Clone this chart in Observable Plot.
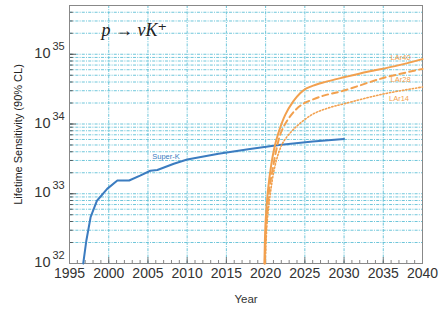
<!DOCTYPE html>
<html><head><meta charset="utf-8">
<script src="https://cdn.jsdelivr.net/npm/d3@7"></script>
<script src="https://cdn.jsdelivr.net/npm/@observablehq/plot@0.6"></script>
<style>body{margin:0;background:#fff}</style>
</head><body><div id="chart"></div>
<script>
// Data (year, log10 lifetime in years)
const superK = [[1996.75,32.0],[1997.15,32.33],[1997.7,32.67],[1998.5,32.9],[1999.8,33.07],[2001.1,33.19],[2002.6,33.19],[2004.0,33.26],[2005.3,33.33],[2006.2,33.34],[2008.3,33.43],[2010,33.49],[2014,33.575],[2018,33.64],[2021.7,33.7],[2026,33.75],[2030,33.786]];
const lar40 = [[2019.85,32.0],[2020.0,32.6],[2020.3,33.05],[2020.7,33.4],[2021.1,33.65],[2021.6,33.86],[2022.5,34.13],[2023.5,34.32],[2024.4,34.44],[2025.2,34.51],[2026.3,34.56],[2027.5,34.6],[2030,34.67],[2033,34.75],[2036.5,34.83],[2040,34.93]];
const lar28 = [[2019.9,32.0],[2020.1,32.6],[2020.45,33.05],[2020.9,33.35],[2021.35,33.62],[2021.9,33.86],[2022.7,34.04],[2023.8,34.2],[2024.8,34.29],[2026,34.35],[2027.5,34.41],[2030,34.48],[2035,34.66],[2040,34.79]];
const lar14 = [[2019.95,32.0],[2020.2,32.6],[2020.6,33.0],[2021.1,33.35],[2021.7,33.6],[2022.3,33.75],[2023.8,33.95],[2026,34.14],[2028,34.23],[2030,34.29],[2035,34.43],[2040,34.53]];
const seriesLabels = [
  {text:"Super-K", x:2007.3, y:33.53, color:"#3b7cc0"},
  {text:"LAr40", x:2037.2, y:34.955, color:"#f2a04e"},
  {text:"LAr28", x:2037.2, y:34.636, color:"#f2a04e"},
  {text:"LAr14", x:2037.0, y:34.364, color:"#f2a04e"}
];
const xTicks = [1995,2000,2005,2010,2015,2020,2025,2030,2035,2040];
const decades = [32,33,34,35];
const title = "p → νK⁺";

const pts = a => a.map(([x,l]) => ({x, y: Math.pow(10,l)}));
const minorYears = d3.range(1995,2041);
const gridYears = xTicks.slice(1,-1);
const minorY = [];
for (const e of [32,33,34,35]) for (let m=1;m<=9;m++){ const v=m*Math.pow(10,e); if (v>1e32 && v<5e35) minorY.push({v, major:m===1}); }

const blue = "#3b7cc0", orange = "#f2a04e", grid = "#5fbfd6";
const font = "Liberation Sans, Arial, sans-serif";

const chart = Plot.plot({
  width: 441, height: 310,
  marginLeft: 69, marginRight: 19, marginTop: 5, marginBottom: 47,
  style: {fontFamily: font, background: "#fff"},
  x: {domain: [1995, 2040], label: null},
  y: {type: "log", domain: [1e32, 5e35], axis: null},
  marks: [
    // grid
    Plot.ruleX(gridYears, {x: d => d, stroke: grid, strokeWidth: 0.9, strokeDasharray: "3,1.2,1,1.2"}),
    Plot.ruleY(minorY, {y: d => d.v, stroke: grid, strokeWidth: 0.9, strokeDasharray: "3,1.2,1,1.2"}),
    // ticks
    Plot.ruleX(minorYears, {x: d => d, stroke: "#666", strokeWidth: 0.8, insetTop: 258 - 3}),
    Plot.ruleX(xTicks, {x: d => d, stroke: "#666", strokeWidth: 0.8, insetTop: 258 - 6}),
    Plot.ruleY(minorY, {y: d => d.v, stroke: "#444", strokeWidth: 0.8, insetRight: 353 - 4}),
    Plot.ruleY(decades.map(e => Math.pow(10, e)), {y: d => d, stroke: "#444", strokeWidth: 0.8, insetRight: 353 - 7}),
    // frame
    Plot.frame({stroke: "#888", strokeWidth: 1}),
    // curves
    Plot.line(pts(superK), {x: "x", y: "y", stroke: blue, strokeWidth: 2}),
    Plot.line(pts(lar14), {x: "x", y: "y", stroke: orange, strokeWidth: 1.6, strokeDasharray: "1.3,2", curve: "catmull-rom"}),
    Plot.line(pts(lar28), {x: "x", y: "y", stroke: orange, strokeWidth: 2, strokeDasharray: "6,4", curve: "catmull-rom"}),
    Plot.line(pts(lar40), {x: "x", y: "y", stroke: orange, strokeWidth: 2, curve: "catmull-rom"}),
    // series labels
    Plot.text(seriesLabels, {x: "x", y: d => Math.pow(10, d.y), text: "text", fill: "color", fontSize: 7.5}),
    // title
    Plot.text([title], {frameAnchor: "top-left", text: d => d, dx: 32, dy: 18, textAnchor: "start", fontSize: 18, fontStyle: "italic", fontFamily: "Liberation Serif, DejaVu Serif, serif", fill: "#222"}),
    // x axis
    Plot.axisX(xTicks, {tickSize: 0, tickPadding: 5, tickFormat: "d", fontSize: 14, fill: "#333", label: null}),
    Plot.text(["Year"], {frameAnchor: "bottom", text: d => d, textAnchor: "middle", dy: 39, fontSize: 11.5, fill: "#333"}),
    // y axis labels 10^n
    Plot.text(decades, {y: d => Math.pow(10, d), frameAnchor: "left", text: () => "10", textAnchor: "end", dx: -19, dy: -1, fontSize: 14.5, fill: "#333"}),
    Plot.text(decades, {y: d => Math.pow(10, d), frameAnchor: "left", text: d => String(d), textAnchor: "start", dx: -17, dy: -8, fontSize: 11, fill: "#333"}),
    Plot.text(["Lifetime Sensitivity (90% CL)"], {frameAnchor: "left", text: d => d, textAnchor: "middle", rotate: -90, dx: -51, fontSize: 11, fill: "#222"})
  ]
});
document.getElementById("chart").appendChild(chart);
</script>
</body></html>
